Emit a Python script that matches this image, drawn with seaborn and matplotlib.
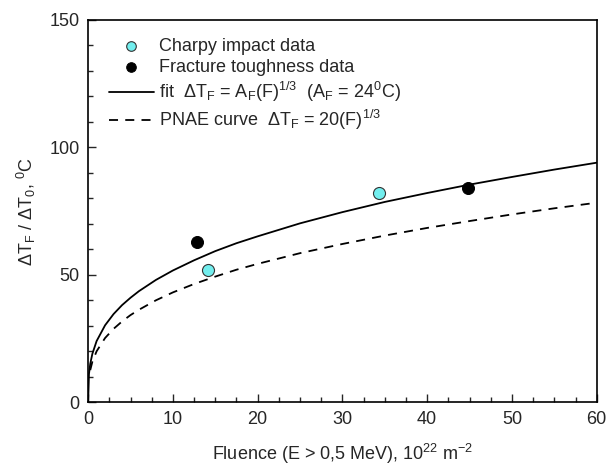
import numpy as np
import pandas as pd
import matplotlib
matplotlib.use('Agg')
import matplotlib.pyplot as plt
from matplotlib.ticker import MultipleLocator
import seaborn as sns

charpy_F = [14.1, 34.3]
charpy_T = [52, 82]
fract_F = [12.9, 44.8]
fract_T = [63, 84]

# fit curve, A_F = 24 C
fit_F = [0, 0.1, 0.25, 0.5, 1, 2, 3, 4, 5, 6, 8, 10, 12.5, 15, 17.5, 20,
         25, 30, 35, 40, 45, 50, 55, 60]
fit_T = [0, 11.1, 15.1, 19.0, 24.0, 30.2, 34.6, 38.1, 41.0, 43.6, 48.0, 51.7,
         55.7, 59.3, 62.4, 65.1, 70.2, 74.6, 78.6, 82.1, 85.4, 88.4, 91.3, 94.0]

# PNAE curve
pnae_F = [0.25, 0.5, 1, 2, 3, 4, 5, 6, 8, 10, 12.5, 15, 17.5, 20,
          25, 30, 35, 40, 45, 50, 55, 60]
pnae_T = [12.6, 15.9, 20.0, 25.2, 28.8, 31.7, 34.2, 36.3, 40.0, 43.1, 46.4,
          49.3, 52.0, 54.3, 58.5, 62.1, 65.4, 68.4, 71.1, 73.7, 76.1, 78.3]

sns.set_style('ticks')
plt.rcParams['font.family'] = ['Liberation Sans', 'DejaVu Sans']
plt.rcParams['mathtext.default'] = 'regular'
plt.rcParams['xtick.direction'] = 'in'
plt.rcParams['ytick.direction'] = 'in'

fig = plt.figure(figsize=(6.12, 4.65), dpi=100)
ax = fig.add_axes([0.144, 0.135, 0.831, 0.822])

sns.scatterplot(x=charpy_F, y=charpy_T, ax=ax, s=75, color='#72eeee',
                edgecolor='#333333', linewidth=0.8, zorder=3,
                label='Charpy impact data')
sns.scatterplot(x=fract_F, y=fract_T, ax=ax, s=75, color='black',
                edgecolor='black', zorder=3, label='Fracture toughness data')
sns.lineplot(x=fit_F, y=fit_T, ax=ax, color='black', linewidth=1.3,
             label=r'fit  $\Delta T_F$ = $A_F(F)^{1/3}$  ($A_F$ = 24$^0$C)')
sns.lineplot(x=pnae_F, y=pnae_T, ax=ax, color='black', linewidth=1.3,
             linestyle=(0, (5, 4)),
             label=r'PNAE curve  $\Delta T_F$ = 20$(F)^{1/3}$')

ax.set_xlim(0, 60)
ax.set_ylim(0, 150)
ax.xaxis.set_major_locator(MultipleLocator(10))
ax.xaxis.set_minor_locator(MultipleLocator(2.5))
ax.yaxis.set_major_locator(MultipleLocator(50))
ax.yaxis.set_minor_locator(MultipleLocator(10))
ax.tick_params(which='major', length=6, width=1, labelsize=13)
ax.tick_params(axis='x', which='major', pad=6)
ax.tick_params(axis='y', which='major', pad=6)
ax.tick_params(which='minor', length=3.5, width=1)
for sp in ax.spines.values():
    sp.set_linewidth(1.2)
    sp.set_color('black')

ax.set_xlabel(r'Fluence (E > 0,5 MeV), 10$^{22}$ m$^{-2}$', fontsize=13, labelpad=10)
ax.set_ylabel(r'$\Delta T_F$ / $\Delta T_0$, $^0$C', fontsize=13, labelpad=8)

leg = ax.legend(loc='upper left', bbox_to_anchor=(0.026, 0.972), frameon=False,
                fontsize=13, handlelength=2.5, handletextpad=0.3,
                labelspacing=0.22, borderaxespad=0, markerscale=0.8)

fig.savefig('out.png', dpi=100)
